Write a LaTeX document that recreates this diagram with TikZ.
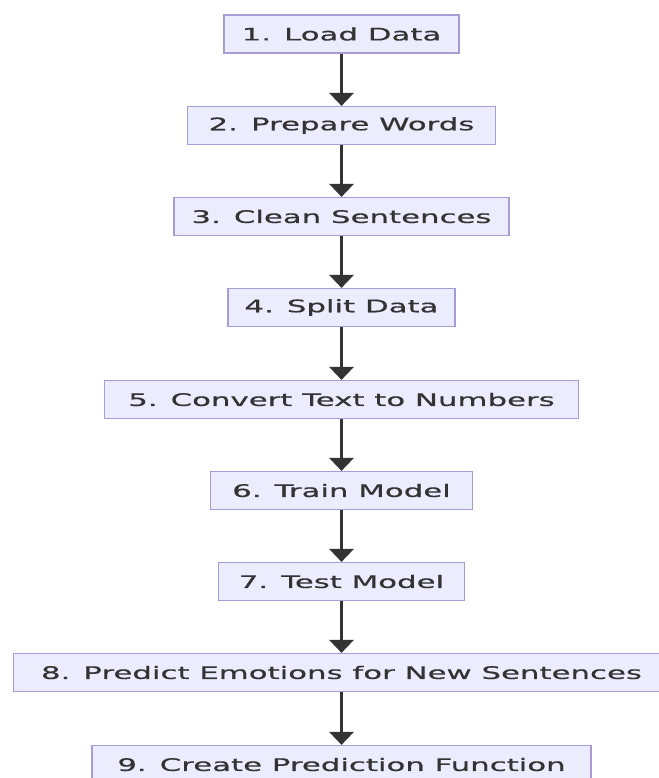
\documentclass[tikz,border=0pt]{standalone}
\usepackage{fontspec}
\newfontfamily\boxfont{DejaVu Sans}[FakeStretch=1.78,FakeBold=0.6]
\usetikzlibrary{arrows.meta}
\definecolor{boxfill}{HTML}{ECECFF}
\definecolor{boxline}{HTML}{A99BD6}
\definecolor{ink}{HTML}{333333}
\tikzset{
  stepbox/.style={draw=boxline, fill=boxfill, line width=1.2pt, inner sep=0pt,
    minimum height=38pt, text=ink, font=\boxfont\fontsize{17.3}{20}\selectfont},
  flow/.style={draw=ink, line width=3.6pt, -{Triangle[width=24pt,length=13pt]}}
}
\begin{document}
\begin{tikzpicture}[x=1pt,y=-1pt]
\useasboundingbox (0,0) rectangle (658,778);
\fill[white] (0,0) rectangle (658,778);
\node[stepbox, minimum width=235pt] (n1) at (341.5,34) {1. Load Data};
\node[stepbox, minimum width=308pt] (n2) at (341.5,125.5) {2. Prepare Words};
\node[stepbox, minimum width=335pt] (n3) at (341.5,216.5) {3. Clean Sentences};
\node[stepbox, minimum width=227pt] (n4) at (341.5,307.5) {4. Split Data};
\node[stepbox, minimum width=474pt] (n5) at (341.5,399.5) {5. Convert Text to Numbers};
\node[stepbox, minimum width=262pt] (n6) at (341.5,490.5) {6. Train Model};
\node[stepbox, minimum width=246pt] (n7) at (341.5,581.5) {7. Test Model};
\node[stepbox, minimum width=656pt] (n8) at (341.5,672.5) {8. Predict Emotions for New Sentences};
\node[stepbox, minimum width=499pt] (n9) at (341.5,764.5) {9. Create Prediction Function};
\draw[flow] (n1) -- (n2);
\draw[flow] (n2) -- (n3);
\draw[flow] (n3) -- (n4);
\draw[flow] (n4) -- (n5);
\draw[flow] (n5) -- (n6);
\draw[flow] (n6) -- (n7);
\draw[flow] (n7) -- (n8);
\draw[flow] (n8) -- (n9);
\end{tikzpicture}
\end{document}
